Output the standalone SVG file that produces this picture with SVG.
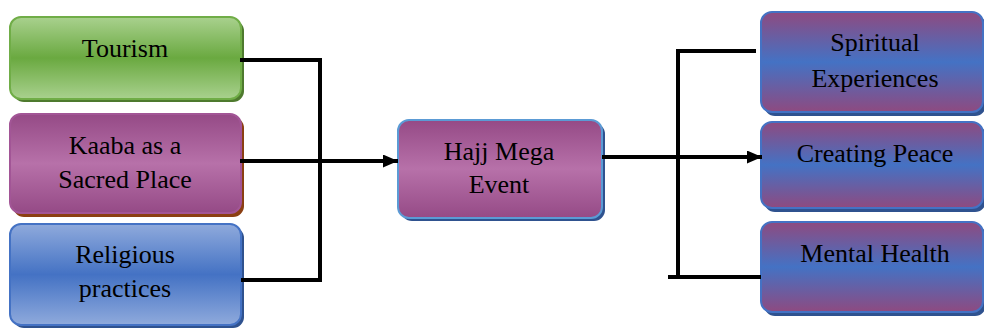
<svg xmlns="http://www.w3.org/2000/svg" width="984" height="329" viewBox="0 0 984 329">
<defs>
<linearGradient id="gGreen" x1="0" y1="0" x2="0" y2="1">
<stop offset="0" stop-color="#a9d18e"/><stop offset="0.5" stop-color="#6aa940"/><stop offset="1" stop-color="#a9d18e"/>
</linearGradient>
<linearGradient id="gPurple" x1="0" y1="0" x2="0" y2="1">
<stop offset="0" stop-color="#954a86"/><stop offset="0.5" stop-color="#b771a9"/><stop offset="1" stop-color="#954a86"/>
</linearGradient>
<linearGradient id="gBlue" x1="0" y1="0" x2="0" y2="1">
<stop offset="0" stop-color="#8faadc"/><stop offset="0.5" stop-color="#4472c4"/><stop offset="1" stop-color="#8faadc"/>
</linearGradient>
<linearGradient id="gPB" x1="0" y1="0" x2="0" y2="1">
<stop offset="0" stop-color="#8e4a80"/><stop offset="0.5" stop-color="#4472c4"/><stop offset="1" stop-color="#8e4a80"/>
</linearGradient>
<marker id="arr" markerWidth="15" markerHeight="13" refX="15" refY="6.5" orient="auto" markerUnits="userSpaceOnUse" viewBox="0 0 15 13">
<path d="M0,0 L15,6.5 L0,13 Z" fill="#000"/>
</marker>
</defs>
<style>
.t{font-family:'Liberation Serif','Times New Roman',serif;font-size:26px;fill:#000;text-anchor:middle}
.ln{fill:none;stroke:#000;stroke-width:4}
</style>
<rect width="984" height="329" fill="#fff"/>
<g id="tourism">
<rect x="13" y="20" width="231" height="82" rx="11" fill="#4e7a2e"/>
<rect x="10" y="17" width="231" height="82" rx="11" fill="url(#gGreen)" stroke="#70ad47" stroke-width="2"/>
<text class="t" x="125" y="57">Tourism</text>
</g>
<g id="kaaba">
<rect x="13" y="117" width="231" height="100" rx="11" fill="#8b3f12"/>
<rect x="10" y="114" width="231" height="99" rx="11" fill="url(#gPurple)" stroke="#a25596" stroke-width="2"/>
<text class="t" x="125" y="154">Kaaba as a</text>
<text class="t" x="125" y="188">Sacred Place</text>
</g>
<g id="religious">
<rect x="13" y="227" width="231" height="101" rx="11" fill="#2f528f"/>
<rect x="10" y="224" width="231" height="101" rx="11" fill="url(#gBlue)" stroke="#4472c4" stroke-width="2"/>
<text class="t" x="125" y="263">Religious</text>
<text class="t" x="125" y="297">practices</text>
</g>
<g id="hajj">
<rect x="401" y="123" width="204" height="98" rx="11" fill="#2f528f"/>
<rect x="398" y="120" width="204" height="98" rx="11" fill="url(#gPurple)" stroke="#5b9bd5" stroke-width="2"/>
<text class="t" x="499" y="160">Hajj Mega</text>
<text class="t" x="499" y="193">Event</text>
</g>
<g id="spiritual">
<rect x="764" y="15" width="222" height="101" rx="11" fill="#2f528f"/>
<rect x="761" y="12" width="222" height="100" rx="11" fill="url(#gPB)" stroke="#4472c4" stroke-width="2"/>
<text class="t" x="875" y="51">Spiritual</text>
<text class="t" x="875" y="87">Experiences</text>
</g>
<g id="peace">
<rect x="764" y="125" width="222" height="87" rx="11" fill="#2f528f"/>
<rect x="761" y="122" width="222" height="86" rx="11" fill="url(#gPB)" stroke="#4472c4" stroke-width="2"/>
<text class="t" x="875" y="162">Creating Peace</text>
</g>
<g id="mental">
<rect x="764" y="225" width="222" height="91" rx="11" fill="#2f528f"/>
<rect x="761" y="222" width="222" height="90" rx="11" fill="url(#gPB)" stroke="#4472c4" stroke-width="2"/>
<text class="t" x="875" y="262">Mental Health</text>
</g>
<g id="connectors">
<polyline class="ln" points="240,60 320,60 320,280 241,280"/>
<line class="ln" x1="240" y1="161" x2="398" y2="161" marker-end="url(#arr)"/>
<line class="ln" x1="602" y1="157" x2="762" y2="157" marker-end="url(#arr)"/>
<polyline class="ln" points="756,51 678,51 678,277"/>
<line class="ln" x1="668" y1="277" x2="761" y2="277"/>
</g>
</svg>
